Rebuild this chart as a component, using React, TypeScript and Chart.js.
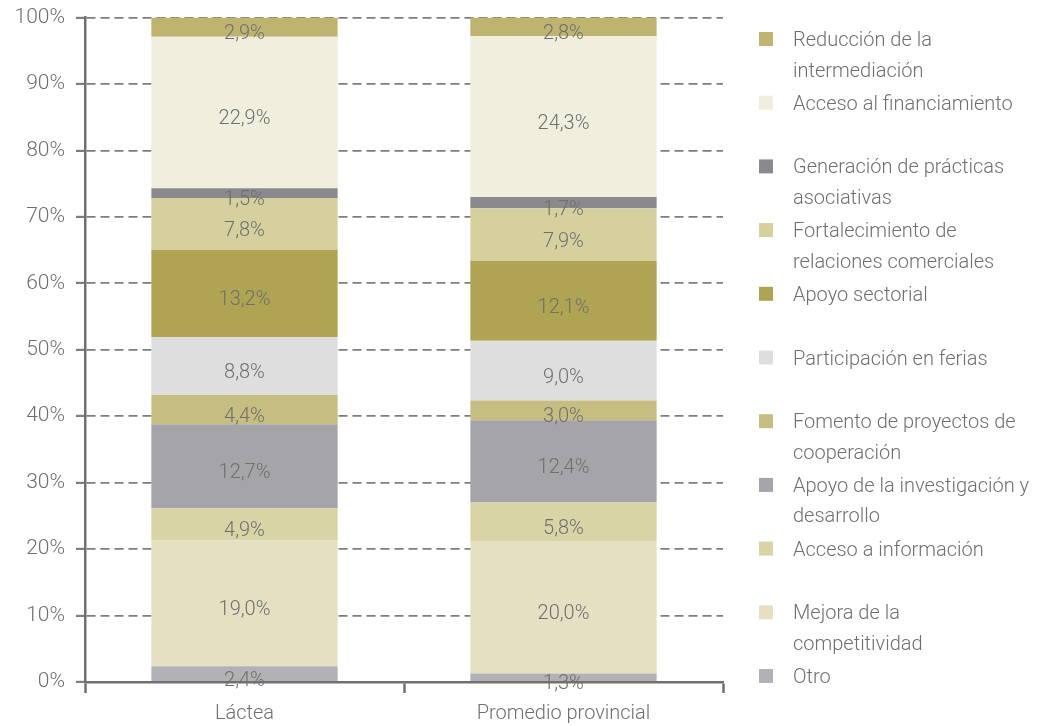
import React, { useEffect, useRef } from "react";
import { Chart, registerables } from "chart.js";

Chart.register(...registerables);

// Categories (x axis)
const categories = ["Láctea", "Promedio provincial"];

// Series, bottom of the stack first
const seriesNames = [
  "Otro",
  "Mejora de la competitividad",
  "Acceso a información",
  "Apoyo de la investigación y desarrollo",
  "Fomento de proyectos de cooperación",
  "Participación en ferias",
  "Apoyo sectorial",
  "Fortalecimiento de relaciones comerciales",
  "Generación de prácticas asociativas",
  "Acceso al financiamiento",
  "Reducción de la intermediación",
];

// Legend text as wrapped in the reference
const legendLines = [
  ["Otro"],
  ["Mejora de la", "competitividad"],
  ["Acceso a información"],
  ["Apoyo de la investigación y", "desarrollo"],
  ["Fomento de proyectos de", "cooperación"],
  ["Participación en ferias"],
  ["Apoyo sectorial"],
  ["Fortalecimiento de", "relaciones comerciales"],
  ["Generación de prácticas", "asociativas"],
  ["Acceso al financiamiento"],
  ["Reducción de la", "intermediación"],
];

// Values (%) per series: [Láctea, Promedio provincial]
const otro = [2.4, 1.3];
const mejora = [19.0, 20.0];
const accesoInfo = [4.9, 5.8];
const investigacion = [12.7, 12.4];
const fomento = [4.4, 3.0];
const ferias = [8.8, 9.0];
const apoyoSectorial = [13.2, 12.1];
const fortalecimiento = [7.8, 7.9];
const generacion = [1.5, 1.7];
const financiamiento = [22.9, 24.3];
const reduccion = [2.9, 2.8];

const seriesValues = [
  otro,
  mejora,
  accesoInfo,
  investigacion,
  fomento,
  ferias,
  apoyoSectorial,
  fortalecimiento,
  generacion,
  financiamiento,
  reduccion,
];

const seriesColors = [
  "#b2b1b6",
  "#e4e0c1",
  "#d8d4a6",
  "#a5a4a9",
  "#c6be80",
  "#dededf",
  "#aea452",
  "#d6d09e",
  "#8a898e",
  "#f0eedd",
  "#bfb46f",
];

const yTicks = [0, 10, 20, 30, 40, 50, 60, 70, 80, 90, 100];

const FONT = "Roboto, 'Liberation Sans', sans-serif";
const TEXT = "#6f6f6f";
const FS = 20;
const SHIFT = 6; // canvas drawn 6px higher than the page top

const fmt = (v: number) => v.toFixed(1).replace(".", ",") + "%";

export default function App() {
  const ref = useRef<HTMLCanvasElement>(null);

  useEffect(() => {
    if (!ref.current) return;
    const totals = categories.map((_, j) =>
      seriesValues.reduce((s, arr) => s + arr[j], 0)
    );

    const labelPlugin = {
      id: "segLabels",
      afterDatasetsDraw(chart: any) {
        const ctx = chart.ctx;
        ctx.save();
        ctx.font = `300 ${FS}px ${FONT}`;
        ctx.fillStyle = TEXT;
        ctx.textAlign = "center";
        ctx.textBaseline = "middle";
        chart.data.datasets.forEach((ds: any, i: number) => {
          const meta = chart.getDatasetMeta(i);
          meta.data.forEach((bar: any, j: number) => {
            const { x, y, base } = bar.getProps(["x", "y", "base"], true);
            ctx.fillText(fmt(ds.rawValues[j]), x, (y + base) / 2 + 7);
          });
        });
        ctx.restore();
      },
    };

    const legendPlugin = {
      id: "sideLegend",
      afterDraw(chart: any) {
        const ctx = chart.ctx;
        ctx.save();
        ctx.font = `300 ${FS}px ${FONT}`;
        ctx.textAlign = "left";
        ctx.textBaseline = "middle";
        const n = chart.data.datasets.length;
        for (let k = 0; k < n; k++) {
          const i = n - 1 - k;
          const ds = chart.data.datasets[i];
          const top = 32 + SHIFT + k * 63.7;
          ctx.fillStyle = ds.backgroundColor;
          ctx.fillRect(759, top, 14, 14);
          ctx.fillStyle = TEXT;
          ds.legendLines.forEach((line: string, li: number) => {
            ctx.fillText(line, 793, top + 9 + li * 30.5);
          });
        }
        ctx.restore();
      },
    };

    const chart = new Chart(ref.current, {
      type: "bar",
      data: {
        labels: categories,
        datasets: seriesNames.map((name, i) => ({
          label: name,
          data: seriesValues[i].map((v, j) => (v / totals[j]) * 100),
          rawValues: seriesValues[i],
          legendLines: legendLines[i],
          backgroundColor: seriesColors[i],
          borderWidth: 0,
          categoryPercentage: 1,
          barPercentage: 0.584,
        })) as any,
      },
      options: {
        responsive: false,
        animation: false,
        layout: { padding: { top: 11, right: 324, left: 0, bottom: 0 } },
        plugins: {
          legend: { display: false },
          tooltip: { enabled: false },
        },
        scales: {
          x: {
            stacked: true,
            grid: {
              drawOnChartArea: false,
              drawTicks: true,
              tickLength: 11,
              tickColor: "#707070",
              tickWidth: 2.5,
              offset: true,
            },
            border: { color: "#707070", width: 2.5 },
            ticks: {
              color: TEXT,
              font: { family: FONT, size: FS, weight: "300" as any },
              padding: 9,
            },
            afterFit(scale: any) {
              scale.height = 44;
            },
          },
          y: {
            stacked: true,
            min: 0,
            max: 100,
            afterBuildTicks(scale: any) {
              scale.ticks = yTicks.map((v) => ({ value: v }));
            },
            grid: {
              color: "#7e7e7e",
              lineWidth: 1.8,
              tickLength: 9,
              tickColor: "#7e7e7e",
              tickWidth: 2.2,
              tickBorderDash: [],
            },
            border: { color: "#707070", width: 2.5, dash: [9, 5] },
            ticks: {
              color: TEXT,
              font: { family: FONT, size: 21, weight: "300" as any },
              padding: 11,
              callback: (v: any) => v + "%",
            },
            afterFit(scale: any) {
              scale.width = 85;
            },
          },
        },
      },
      plugins: [labelPlugin, legendPlugin],
    });
    return () => chart.destroy();
  }, []);

  return (
    <div
      style={{
        position: "absolute",
        left: 0,
        top: 0,
        width: 1047,
        height: 726,
        overflow: "hidden",
        background: "#fff",
      }}
    >
      <canvas
        ref={ref}
        width={1047}
        height={726 + SHIFT}
        style={{ position: "absolute", left: 0, top: -SHIFT }}
      />
    </div>
  );
}
